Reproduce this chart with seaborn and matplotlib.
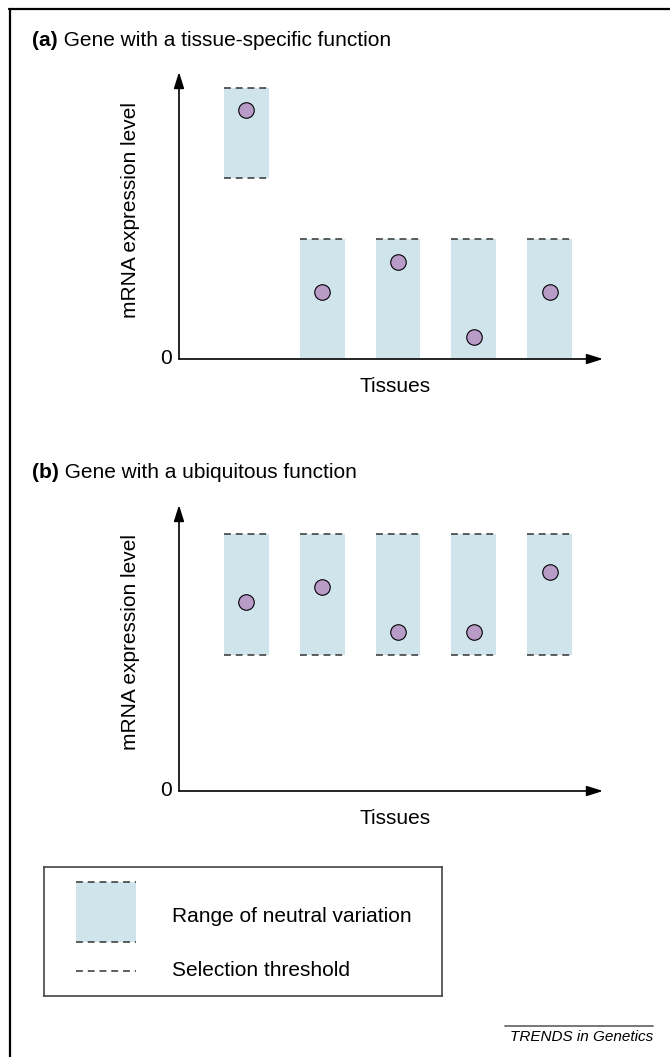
import matplotlib
matplotlib.use("Agg")
import matplotlib.pyplot as plt
import seaborn as sns
from matplotlib.lines import Line2D
from matplotlib.patches import Rectangle

W, H = 670, 1057

tissues = [1, 2, 3, 4, 5]

# (a) tissue-specific gene
low_a = [0.631, 0.0, 0.0, 0.0, 0.0]
high_a = [0.944, 0.418, 0.418, 0.418, 0.418]
expr_a = [0.868, 0.233, 0.338, 0.077, 0.233]

# (b) ubiquitous gene
low_b = [0.476, 0.476, 0.476, 0.476, 0.476]
high_b = [0.899, 0.899, 0.899, 0.899, 0.899]
expr_b = [0.661, 0.713, 0.556, 0.556, 0.766]

BAR_COLOR = "#d0e4ec"
DOT_COLOR = "#b99bc8"
DASH_COLOR = "#333333"
DASHES = (0, (4.5, 3.2))


def fx(px):
    return px / W


def fy(py):
    return 1 - py / H


def draw_panel(fig, top, bottom, low, high, expr, label, title):
    ax = fig.add_axes([fx(179), fy(bottom), fx(603) - fx(179), fy(top) - fy(bottom)])
    ax.set_xlim(0.109, 5.706)
    ax.set_ylim(0, 1)
    ax.axis("off")

    width = 0.59
    heights = [h - l for h, l in zip(high, low)]
    ax.bar(tissues, heights, bottom=low, width=width, color=BAR_COLOR, linewidth=0, zorder=1)
    for x, l, h in zip(tissues, low, high):
        ax.hlines(h, x - width / 2, x + width / 2, colors=DASH_COLOR, linestyles=DASHES, lw=1.1, zorder=2)
        if l > 0:
            ax.hlines(l, x - width / 2, x + width / 2, colors=DASH_COLOR, linestyles=DASHES, lw=1.1, zorder=2)

    sns.scatterplot(x=tissues, y=expr, ax=ax, s=125, color=DOT_COLOR,
                    edgecolor="black", linewidth=0.8, zorder=3, legend=False)

    arrow = dict(arrowstyle="-|>,head_length=0.7,head_width=0.22", lw=1.2, color="black",
                 shrinkA=0, shrinkB=0, mutation_scale=14)
    ax.annotate("", xy=(0, 1), xytext=(0, 0), xycoords="axes fraction", arrowprops=arrow)
    ax.annotate("", xy=(1, 0), xytext=(0, 0), xycoords="axes fraction", arrowprops=arrow)

    fig.text(fx(166), fy(bottom), "0", ha="center", va="center", fontsize=15)
    fig.text(fx(395), fy(bottom + 28), "Tissues", ha="center", va="center", fontsize=15)
    fig.text(fx(130), fy((top + bottom) / 2 - 6), "mRNA expression level", rotation=90,
             ha="center", va="center", fontsize=15)

    t1 = fig.text(fx(32), fy(top - 32), label, ha="left", va="center", fontsize=15, fontweight="bold")
    fig.add_artist(plt.Annotation(" " + title, xy=(1, 0), xycoords=t1,
                                  ha="left", va="bottom", fontsize=15))
    return ax


def main():
    sns.set_theme(style="white")
    plt.rcParams["font.family"] = ["Liberation Sans", "DejaVu Sans"]
    plt.rcParams["text.color"] = "black"

    fig = plt.figure(figsize=(W / 100, H / 100), dpi=100)

    draw_panel(fig, 72, 359, low_a, high_a, expr_a, "(a)", "Gene with a tissue-specific function")
    draw_panel(fig, 505, 791, low_b, high_b, expr_b, "(b)", "Gene with a ubiquitous function")

    # legend box
    lax = fig.add_axes([fx(44), fy(996), fx(442) - fx(44), fy(867) - fy(996)])
    lax.set_xlim(44, 442)
    lax.set_ylim(996, 867)
    lax.set_xticks([])
    lax.set_yticks([])
    for sp in lax.spines.values():
        sp.set_color("#444444")
        sp.set_linewidth(1.2)
    lax.add_patch(Rectangle((76, 882), 60, 60, facecolor=BAR_COLOR, edgecolor="none"))
    lax.hlines([882, 942, 971], 76, 136, colors=DASH_COLOR, linestyles=DASHES, lw=1.1)
    lax.text(172, 917, "Range of neutral variation", ha="left", va="center", fontsize=15)
    lax.text(172, 971, "Selection threshold", ha="left", va="center", fontsize=15)

    # outer frame (top and left only)
    fig.add_artist(Line2D([fx(9), 1], [fy(9), fy(9)], color="black", lw=1.6))
    fig.add_artist(Line2D([fx(10), fx(10)], [fy(9), 0], color="black", lw=1.6))

    # journal tag
    fig.add_artist(Line2D([fx(505), fx(653)], [fy(1026), fy(1026)], color="#777777", lw=1.4))
    fig.text(fx(653), fy(1037), "TRENDS in Genetics", ha="right", va="center",
             fontsize=11, fontstyle="italic")

    fig.savefig("out.png", dpi=100)


if __name__ == "__main__":
    main()
